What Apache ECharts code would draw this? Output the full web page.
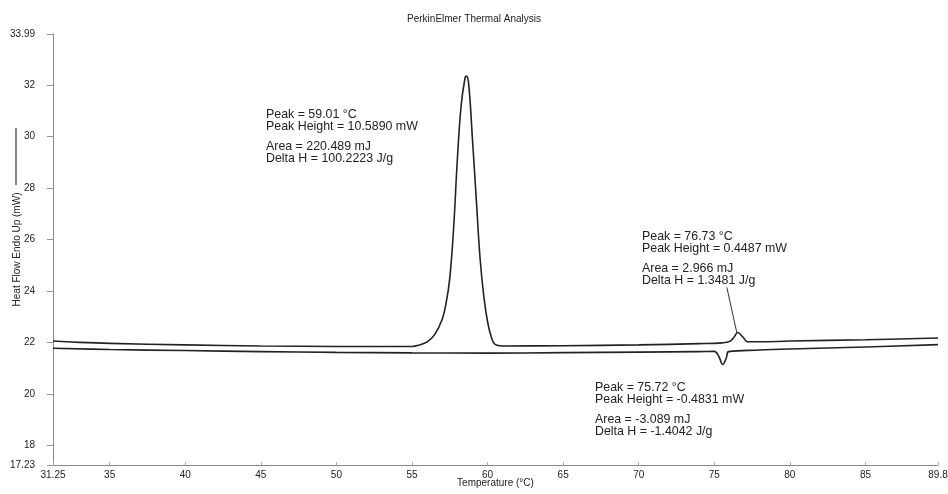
<!DOCTYPE html>
<html>
<head>
<meta charset="utf-8">
<script src="https://cdn.jsdelivr.net/npm/echarts@6/dist/echarts.min.js"></script>
<style>html,body{margin:0;padding:0;background:#fff}#c{width:948px;height:494px}</style>
</head>
<body>
<div id="c"></div>
<script>
// Heating curve (upper) – temperature (°C) and heat flow (mW)
var upperTemp = [31.25, 33, 35, 40, 45, 50, 55, 55.5, 56, 56.5, 57, 57.25, 57.5, 57.75, 58, 58.25, 58.5, 58.6, 58.75, 59, 59.25, 59.5, 59.75, 60, 60.25, 60.5, 61, 65, 70, 74, 75.5, 76, 76.3, 76.55, 76.9, 77.2, 78, 80, 85, 89.8];
var upperFlow = [22.05, 22.0, 21.96, 21.9, 21.86, 21.84, 21.84, 21.9, 22.02, 22.3, 22.9, 23.5, 24.5, 26.4, 29.1, 31.2, 32.25, 32.35, 32.05, 29.9, 27.6, 25.3, 23.8, 22.8, 22.2, 21.92, 21.86, 21.87, 21.9, 21.95, 21.98, 22.03, 22.2, 22.38, 22.2, 22.02, 22.02, 22.05, 22.1, 22.17];
// Cooling curve (lower)
var lowerTemp = [31.25, 35, 40, 45, 50, 55, 60, 65, 70, 74, 75.0, 75.3, 75.56, 75.8, 75.95, 78, 80, 85, 89.8];
var lowerFlow = [21.77, 21.72, 21.68, 21.64, 21.61, 21.59, 21.58, 21.6, 21.62, 21.64, 21.65, 21.45, 21.14, 21.4, 21.64, 21.7, 21.74, 21.82, 21.91];
// Axis tick labels
var xTicks = [31.25, 35, 40, 45, 50, 55, 60, 65, 70, 75, 80, 85, 89.8];
var yTicks = [17.23, 18, 20, 22, 24, 26, 28, 30, 32, 33.99];
// Annotation leader line (from text to small endotherm)
var leader = [[75.83, 24.14], [76.5, 22.35]];
var notes = [
  ['Peak = 59.01 °C', 'Peak Height = 10.5890 mW', 'Area = 220.489 mJ', 'Delta H = 100.2223 J/g'],
  ['Peak = 76.73 °C', 'Peak Height = 0.4487 mW', 'Area = 2.966 mJ', 'Delta H = 1.3481 J/g'],
  ['Peak = 75.72 °C', 'Peak Height = -0.4831 mW', 'Area = -3.089 mJ', 'Delta H = -1.4042 J/g']
];

function pairs(a, b) { return a.map(function (v, i) { return [v, b[i]]; }); }

var FONT = 'Liberation Sans, Arial, sans-serif';
var notePos = [[266, 109], [642, 231], [595, 382]];
var graphics = [];
notes.forEach(function (n, k) {
  graphics.push({
    type: 'text', left: notePos[k][0], top: notePos[k][1],
    style: { text: n[0] + '\n' + n[1], font: '12.4px ' + FONT, fill: '#222', lineHeight: 12 }
  });
  graphics.push({
    type: 'text', left: notePos[k][0], top: notePos[k][1] + 32,
    style: { text: n[2] + '\n' + n[3], font: '12.4px ' + FONT, fill: '#222', lineHeight: 12 }
  });
});
graphics.push({ type: 'line', shape: { x1: 16, y1: 128, x2: 16, y2: 185 }, style: { stroke: '#333', lineWidth: 1.2 } });

var chart = echarts.init(document.getElementById('c'), null, { renderer: 'canvas' });
chart.setOption({
  backgroundColor: '#fff',
  animation: false,
  title: {
    text: 'PerkinElmer Thermal Analysis', left: 'center', top: 9,
    textStyle: { fontFamily: FONT, fontSize: 10, fontWeight: 'normal', color: '#222' }
  },
  grid: { left: 53, right: 10, top: 34, bottom: 29, containLabel: false, outerBoundsMode: 'none' },
  xAxis: {
    type: 'value', min: 31.25, max: 89.8,
    name: 'Temperature (°C)', nameLocation: 'middle', nameGap: 13, nameMoveOverlap: false,
    nameTextStyle: { fontFamily: FONT, fontSize: 10, color: '#222', verticalAlign: 'top' },
    axisLine: { lineStyle: { color: '#888' } },
    axisTick: { show: true, inside: true, length: 3, customValues: xTicks, lineStyle: { color: '#aaa' } },
    axisLabel: { customValues: xTicks, margin: 5, fontFamily: FONT, fontSize: 10, color: '#222', showMinLabel: true, showMaxLabel: true },
    splitLine: { show: false }
  },
  yAxis: {
    type: 'value', min: 17.23, max: 33.99,
    name: 'Heat Flow Endo Up (mW)', nameLocation: 'middle', nameRotate: 90, nameGap: 31, nameMoveOverlap: false,
    nameTextStyle: { fontFamily: FONT, fontSize: 10, color: '#222' },
    axisLine: { show: true, lineStyle: { color: '#888' } },
    axisTick: { show: true, length: 6, customValues: yTicks, lineStyle: { color: '#999' } },
    axisLabel: { customValues: yTicks, margin: 18, fontFamily: FONT, fontSize: 10, color: '#222', showMinLabel: true, showMaxLabel: true },
    splitLine: { show: false }
  },
  series: [
    {
      type: 'line', data: pairs(upperTemp, upperFlow), showSymbol: false, smooth: 0.4,
      lineStyle: { color: '#222', width: 1.6 }, silent: true,
      markLine: {
        silent: true, symbol: ['none', 'none'], label: { show: false },
        lineStyle: { color: '#333', width: 1, type: 'solid' },
        data: [[{ coord: leader[0] }, { coord: leader[1] }]]
      }
    },
    {
      type: 'line', data: pairs(lowerTemp, lowerFlow), showSymbol: false, smooth: 0.4,
      lineStyle: { color: '#222', width: 1.6 }, silent: true
    }
  ],
  graphic: graphics
});
</script>
</body>
</html>
